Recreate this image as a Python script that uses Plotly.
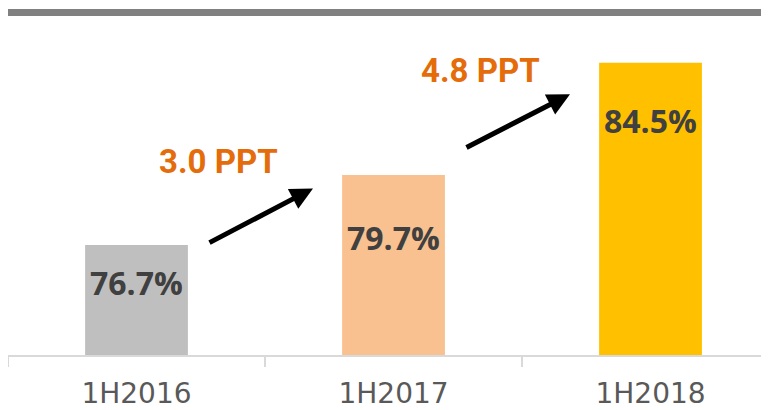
import plotly.graph_objects as go

categories = ["1H2016", "1H2017", "1H2018"]
values = [76.7, 79.7, 84.5]
value_labels = ["76.7%", "79.7%", "84.5%"]
bar_colors = ["#BFBFBF", "#F9C18F", "#FFC000"]
label_shift = [-37, -63, -58]
change_labels = ["3.0 PPT", "4.8 PPT"]

fig = go.Figure()
fig.add_trace(go.Bar(
    x=categories, y=values, marker=dict(color=bar_colors, line=dict(width=0)),
    width=0.4, hoverinfo="skip", showlegend=False,
))

for c, v, t, s in zip(categories, values, value_labels, label_shift):
    fig.add_annotation(x=c, y=v, text=t, showarrow=False, yshift=s,
                       yanchor="middle",
                       font=dict(family="Open Sans", size=32, color="#404040", weight="bold"))

# page has an 8px body margin: figure pixel = reference pixel - 8
OFF = 8
W, H = 761, 402
L, B = 0, 52
pw, ph = W - L, H - B

def px(x):
    return (x - OFF - L) / pw

def py(y):
    return (H - B - (y - OFF)) / ph

# arrows
arrows = [((313, 190), (208, 245)), ((570, 95), (465, 149))]
for (hx, hy), (tx, ty) in arrows:
    fig.add_annotation(x=px(hx), y=py(hy), ax=tx - hx, ay=ty - hy,
                       xref="paper", yref="paper", axref="pixel", ayref="pixel",
                       showarrow=True, arrowhead=2, arrowsize=0.9, arrowwidth=5,
                       arrowcolor="#000000", text="")

# change labels
for (cx, cy), t in zip([(218, 163), (480, 71)], change_labels):
    fig.add_annotation(x=px(cx), y=py(cy), xref="paper", yref="paper", text=t,
                       showarrow=False, xanchor="center", yanchor="middle",
                       font=dict(family="Roboto", size=33,
                                 color="#E46C0A", weight="bold"))

# top gray rule
fig.add_shape(type="line", xref="paper", yref="paper", x0=0, x1=1.0,
              y0=py(12.5), y1=py(12.5), line=dict(color="#808080", width=7))

fig.update_layout(
    width=W, height=H,
    margin=dict(l=L, r=0, t=0, b=B),
    paper_bgcolor="white", plot_bgcolor="white",
    xaxis=dict(range=[-0.5, 2.461], showline=True, linecolor="#D9D9D9", linewidth=2,
               ticks="outside", tickson="boundaries", ticklen=10, tickcolor="#D9D9D9",
               tickwidth=2, showgrid=False, zeroline=False, ticklabelstandoff=12,
               tickfont=dict(family="DejaVu Sans", size=28, color="#595959")),
    yaxis=dict(range=[72, 72 + ph / 23.59], visible=False, showgrid=False, zeroline=False),
)

fig.write_html("out.html")
